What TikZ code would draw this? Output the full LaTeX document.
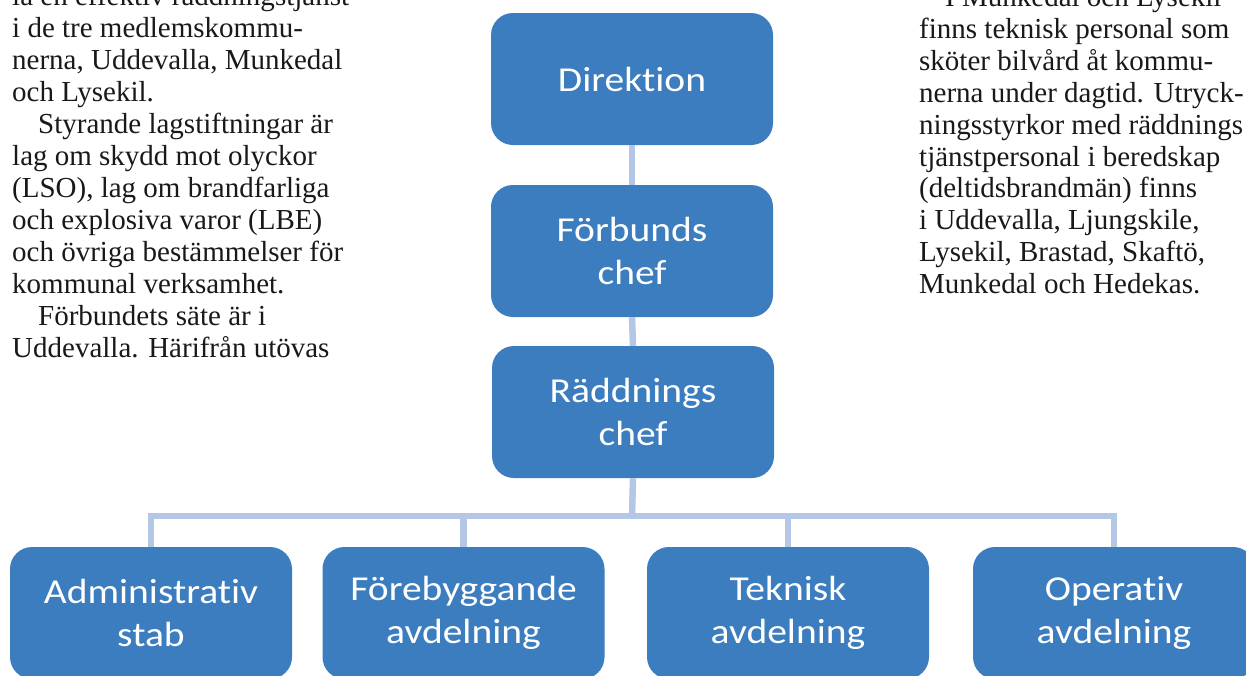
\documentclass[tikz,border=0pt]{standalone}
\usepackage{fontspec}
\usepackage{graphicx}
\setmainfont{Liberation Serif}
\newfontfamily\boxfont[Ligatures=NoCommon]{Carlito}
\definecolor{boxblue}{RGB}{59,125,190}
\definecolor{linkblue}{RGB}{180,199,231}
\definecolor{ink}{RGB}{25,25,25}
\tikzset{
  orgbox/.style={fill=boxblue, rounded corners=22pt, minimum width=282pt, minimum height=132pt,
    inner sep=0pt, text=white, align=center, font=\boxfont\fontsize{35}{43}\selectfont},
  link/.style={draw=linkblue, line width=6.5pt, line join=miter},
  coltext/.style={anchor=base west, inner sep=0pt, text=ink, font=\fontsize{29}{32}\selectfont}
}
\newcommand{\wide}[1]{\scalebox{1.13}[1]{#1}}
\begin{document}
\begin{tikzpicture}[x=1pt, y=-1pt]
\useasboundingbox (0,0) rectangle (1246,675);
\clip (0,0) rectangle (1246,675);
\fill[white] (0,0) rectangle (1246,675);

% left column
\node[coltext] (l1)  at (12,5)   {la en effektiv räddningstjänst};
\node[coltext] (l2)  at (12,37)  {i de tre medlemskommu-};
\node[coltext] (l3)  at (12,69)  {nerna, Uddevalla, Munkedal};
\node[coltext] (l4)  at (12,101) {och Lysekil.};
\node[coltext] (l5)  at (38,133) {Styrande lagstiftningar är};
\node[coltext] (l6)  at (12,165) {lag om skydd mot olyckor};
\node[coltext] (l7)  at (12,197) {(LSO), lag om brandfarliga};
\node[coltext] (l8)  at (12,229) {och explosiva varor (LBE)};
\node[coltext] (l9)  at (12,261) {och övriga bestämmelser för};
\node[coltext] (l10) at (12,293) {kommunal verksamhet.};
\node[coltext] (l11) at (38,325) {Förbundets säte är i};
\node[coltext] (l12) at (12,357) {Uddevalla. Härifrån utövas};

% right column
\node[coltext] (r1)  at (945,6)   {I Munkedal och Lysekil};
\node[coltext] (r2)  at (919,38)  {finns teknisk personal som};
\node[coltext] (r3)  at (919,70)  {sköter bilvård åt kommu-};
\node[coltext] (r4)  at (919,102) {nerna under dagtid. Utryck-};
\node[coltext] (r5)  at (919,134) {ningsstyrkor med räddnings};
\node[coltext] (r6)  at (919,166) {tjänstpersonal i beredskap};
\node[coltext] (r7)  at (919,197) {(deltidsbrandmän) finns};
\node[coltext] (r8)  at (919,229) {i Uddevalla, Ljungskile,};
\node[coltext] (r9)  at (919,261) {Lysekil, Brastad, Skaftö,};
\node[coltext] (r10) at (919,293) {Munkedal och Hedekas.};

% org chart
\node[orgbox] (dir)  at (632,79)  {\wide{Direktion}};
\node[orgbox] (forb) at (632,251) {\wide{Förbunds}\\\wide{chef}};
\node[orgbox] (radd) at (633,412) {\wide{Räddnings}\\\wide{chef}};
\node[orgbox] (adm)  at (151,613)   {\wide{Administrativ}\\\wide{stab}};
\node[orgbox] (fore) at (463.5,613) {\wide{Förebyggande}\\\wide{avdelning}};
\node[orgbox] (tek)  at (788,613)   {\wide{Teknisk}\\\wide{avdelning}};
\node[orgbox] (ope)  at (1114,613)  {\wide{Operativ}\\\wide{avdelning}};

\coordinate (bar) at (632,516);
\draw[link] (dir.south) -- (forb.north);
\draw[link] (forb.south) -- (radd.north);
\draw[link] (radd.south) -- (bar);
\draw[link] (adm.north) |- (bar) -| (ope.north);
\draw[link] (fore.north) -- (fore.north |- bar);
\draw[link] (tek.north) -- (tek.north |- bar);
\end{tikzpicture}
\end{document}
